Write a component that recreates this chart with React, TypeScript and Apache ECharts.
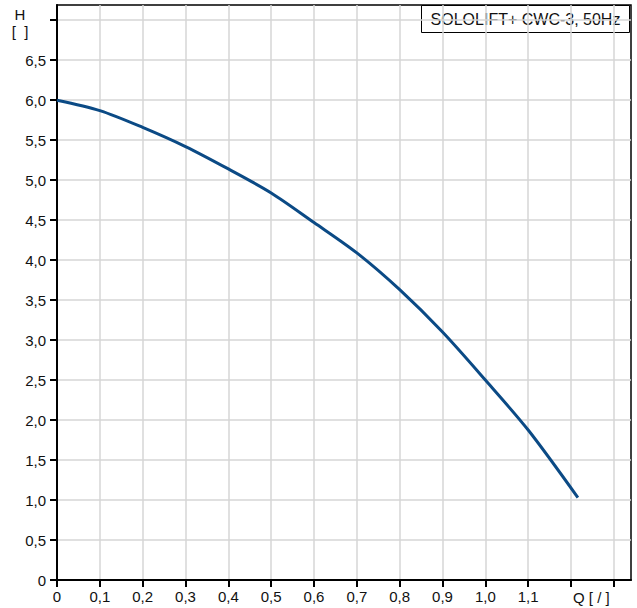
import React, { useEffect, useRef } from "react";
import * as echarts from "echarts";

const flowQ = [0, 0.1, 0.2, 0.3, 0.4, 0.5, 0.6, 0.7, 0.8, 0.9, 1.0, 1.1, 1.216];
const headH = [6.0, 5.87, 5.66, 5.42, 5.14, 4.84, 4.47, 4.09, 3.63, 3.1, 2.5, 1.875, 1.03];
const xTicks = [0, 0.1, 0.2, 0.3, 0.4, 0.5, 0.6, 0.7, 0.8, 0.9, 1.0, 1.1, 1.2, 1.3];
const yTicks = [0, 0.5, 1, 1.5, 2, 2.5, 3, 3.5, 4, 4.5, 5, 5.5, 6, 6.5, 7];
const legendTitle = "SOLOLIFT+ CWC-3, 50Hz";
const yUnit = ["H", "[\u00a0\u00a0]"];
const xUnit = "Q\u00a0[\u00a0/\u00a0]";

const fmt = (v: number) => (Math.abs(v) < 1e-9 ? "0" : v.toFixed(1).replace(".", ","));

export default function App() {
  const ref = useRef<HTMLDivElement>(null);
  useEffect(() => {
    document.body.style.margin = "0";
    const chart = echarts.init(ref.current!, null, { renderer: "svg" });
    const font = "'Liberation Sans', Arial, sans-serif";
    chart.setOption({
      animation: false,
      backgroundColor: "#ffffff",
      grid: {
        left: 57,
        right: 6,
        top: 5,
        bottom: 28,
        show: true,
        borderColor: "#000",
        borderWidth: 1.5,
      },
      xAxis: {
        type: "value",
        min: 0,
        max: 1.34,
        interval: 0.1,
        axisLine: { show: true, onZero: false, lineStyle: { color: "#000", width: 2 } },
        axisTick: { show: true, length: 7, customValues: xTicks, lineStyle: { color: "#000", width: 2 } },
        axisLabel: {
          customValues: xTicks.slice(0, 12),
          formatter: (v: number) => fmt(v),
          color: "#111",
          fontSize: 15,
          fontFamily: font,
          margin: 9,
        },
        splitLine: { show: true, lineStyle: { color: "#d6d6d6", width: 1.5 } },
      },
      yAxis: {
        type: "value",
        min: 0,
        max: 7.19,
        interval: 0.5,
        axisLine: { show: true, onZero: false, lineStyle: { color: "#000", width: 2 } },
        axisTick: { show: true, length: 7, customValues: yTicks, lineStyle: { color: "#000", width: 2 } },
        axisLabel: {
          customValues: yTicks.slice(0, 14),
          formatter: (v: number) => fmt(v),
          color: "#111",
          fontSize: 15,
          fontFamily: font,
          margin: 11,
        },
        splitLine: { show: true, lineStyle: { color: "#d6d6d6", width: 1.5 } },
      },
      graphic: [
        {
          type: "group",
          right: 7,
          top: 5,
          children: [
            {
              type: "rect",
              shape: { x: 0, y: 0, width: 208, height: 27 },
              style: { fill: "#fff", stroke: "#000", lineWidth: 1 },
            },
            {
              type: "text",
              x: 104,
              y: 14,
              style: {
                text: legendTitle,
                fill: "#111",
                font: `16px ${font}`,
                textAlign: "center",
                textVerticalAlign: "middle",
              },
            },
          ],
        },
        {
          type: "text",
          x: 20,
          y: 14,
          style: {
            text: yUnit[0],
            fill: "#111",
            font: `15px ${font}`,
            textAlign: "center",
            textVerticalAlign: "middle",
          },
        },
        {
          type: "text",
          x: 20,
          y: 31,
          style: {
            text: yUnit[1],
            fill: "#111",
            font: `15px ${font}`,
            textAlign: "center",
            textVerticalAlign: "middle",
          },
        },
        {
          type: "text",
          left: 573,
          top: 590,
          style: { text: xUnit, fill: "#111", font: `15px ${font}` },
        },
      ],
      series: [
        {
          type: "line",
          data: flowQ.map((q, i) => [q, headH[i]]),
          smooth: 0.3,
          showSymbol: false,
          lineStyle: { color: "#0b4a85", width: 3 },
        },
      ],
    });
    return () => chart.dispose();
  }, []);
  return <div ref={ref} style={{ width: 637, height: 608 }} />;
}
